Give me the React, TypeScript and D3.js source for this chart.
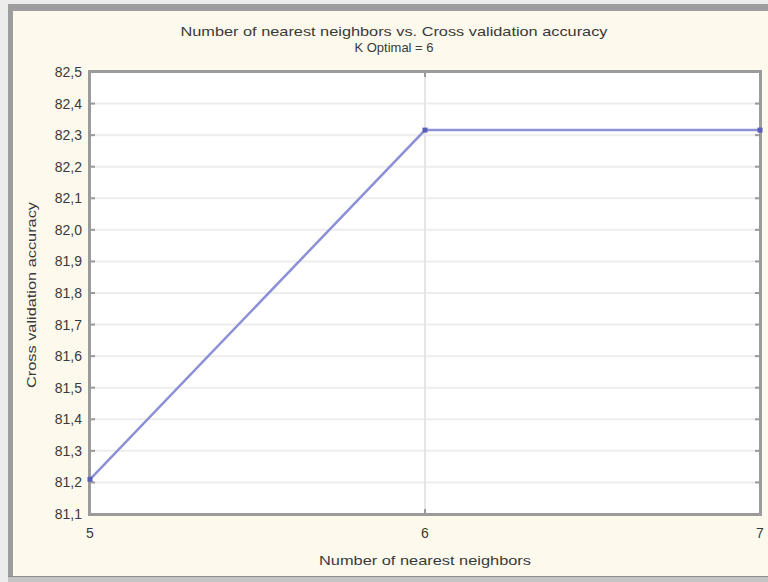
import React from "react";
import * as d3 from "d3";

const kValues = [5, 6, 7];
const accuracy = [81.21, 82.316, 82.316];
const yTicks = [81.1, 81.2, 81.3, 81.4, 81.5, 81.6, 81.7, 81.8, 81.9, 82.0, 82.1, 82.2, 82.3, 82.4, 82.5];
const xTicks = [5, 6, 7];
const title = "Number of nearest neighbors vs. Cross validation accuracy";
const subtitle = "K Optimal = 6";
const xLabel = "Number of nearest neighbors";
const yLabel = "Cross validation accuracy";

const W = 768;
const H = 582;
const FONT = "'Liberation Sans', Arial, sans-serif";

export default function App() {
  const x = d3.scaleLinear().domain([5, 7]).range([90, 760]);
  const y = d3.scaleLinear().domain([81.1, 82.5]).range([514, 72]);
  const pts = kValues.map((k, i) => [k, accuracy[i]] as [number, number]);
  const line = d3
    .line<[number, number]>()
    .x((d) => x(d[0]))
    .y((d) => y(d[1]));
  const fmt = (v: number) => v.toFixed(1).replace(".", ",");
  const [x0, x1] = x.range();
  const [yb, yt] = y.range();

  return (
    <svg
      width={W}
      height={H}
      style={{ position: "absolute", left: 0, top: 0, display: "block" }}
      fontFamily={FONT}
    >
      {/* window chrome */}
      <rect x={0} y={0} width={W} height={H} fill="#ececec" />
      <rect x={8} y={4} width={W - 8} height={H - 4} fill="#9d9d9d" />
      <rect x={13} y={11} width={W - 13} height={H - 17} fill="#fdf9ed" />
      <rect x={8} y={576} width={W - 8} height={6} fill="#c4c4c4" />
      <line x1={8} x2={W} y1={576.5} y2={576.5} stroke="#8f8f8f" />

      {/* titles */}
      <text x={394} y={36} textAnchor="middle" fontSize={13} fill="#3a3a3a" textLength={427} lengthAdjust="spacingAndGlyphs">
        {title}
      </text>
      <text x={394} y={52} textAnchor="middle" fontSize={13} fill="#3a3a3a">
        {subtitle}
      </text>

      {/* plot area */}
      <rect x={x0} y={yt} width={x1 - x0} height={yb - yt} fill="#ffffff" />
      {yTicks.map((t) => (
        <line key={"g" + t} x1={x0} x2={x1} y1={y(t)} y2={y(t)} stroke="#ededed" strokeWidth={2} />
      ))}
      {xTicks.slice(1, -1).map((t) => (
        <line key={"gx" + t} x1={x(t)} x2={x(t)} y1={yt} y2={yb} stroke="#e6e6e6" strokeWidth={2} />
      ))}

      {/* ticks */}
      {yTicks.map((t) => (
        <g key={"t" + t}>
          <line x1={x0} x2={x0 + 5} y1={y(t)} y2={y(t)} stroke="#9a9a9a" strokeWidth={2} />
          <line x1={x1 - 5} x2={x1} y1={y(t)} y2={y(t)} stroke="#9a9a9a" strokeWidth={2} />
          <text x={82} y={y(t)} dy="0.36em" textAnchor="end" fontSize={14} fill="#3a3a3a">
            {fmt(t)}
          </text>
        </g>
      ))}
      {xTicks.map((t) => (
        <g key={"xt" + t}>
          <line x1={x(t)} x2={x(t)} y1={yt} y2={yt + 5} stroke="#9a9a9a" strokeWidth={2} />
          <line x1={x(t)} x2={x(t)} y1={yb - 5} y2={yb} stroke="#9a9a9a" strokeWidth={2} />
          <text x={x(t)} y={538} textAnchor="middle" fontSize={14} fill="#3a3a3a">
            {t}
          </text>
        </g>
      ))}

      {/* frame */}
      <rect x={x0 - 0.5} y={yt - 0.5} width={x1 - x0 + 1} height={yb - yt + 1} fill="none" stroke="#9b9b9b" strokeWidth={3} />

      {/* data */}
      <path d={line(pts) || ""} fill="none" stroke="#8c90d6" strokeWidth={2.5} />
      {pts.map((p, i) => (
        <rect key={"m" + i} x={x(p[0]) - 2.5} y={y(p[1]) - 2.5} width={5} height={5} fill="#5a5eb6" />
      ))}

      {/* axis titles */}
      <text x={425} y={565} textAnchor="middle" fontSize={13} fill="#3a3a3a" textLength={212} lengthAdjust="spacingAndGlyphs">
        {xLabel}
      </text>
      <text
        transform={`translate(36,295) rotate(-90)`}
        textAnchor="middle"
        fontSize={13}
        fill="#3a3a3a"
        textLength={186}
        lengthAdjust="spacingAndGlyphs"
      >
        {yLabel}
      </text>
    </svg>
  );
}
